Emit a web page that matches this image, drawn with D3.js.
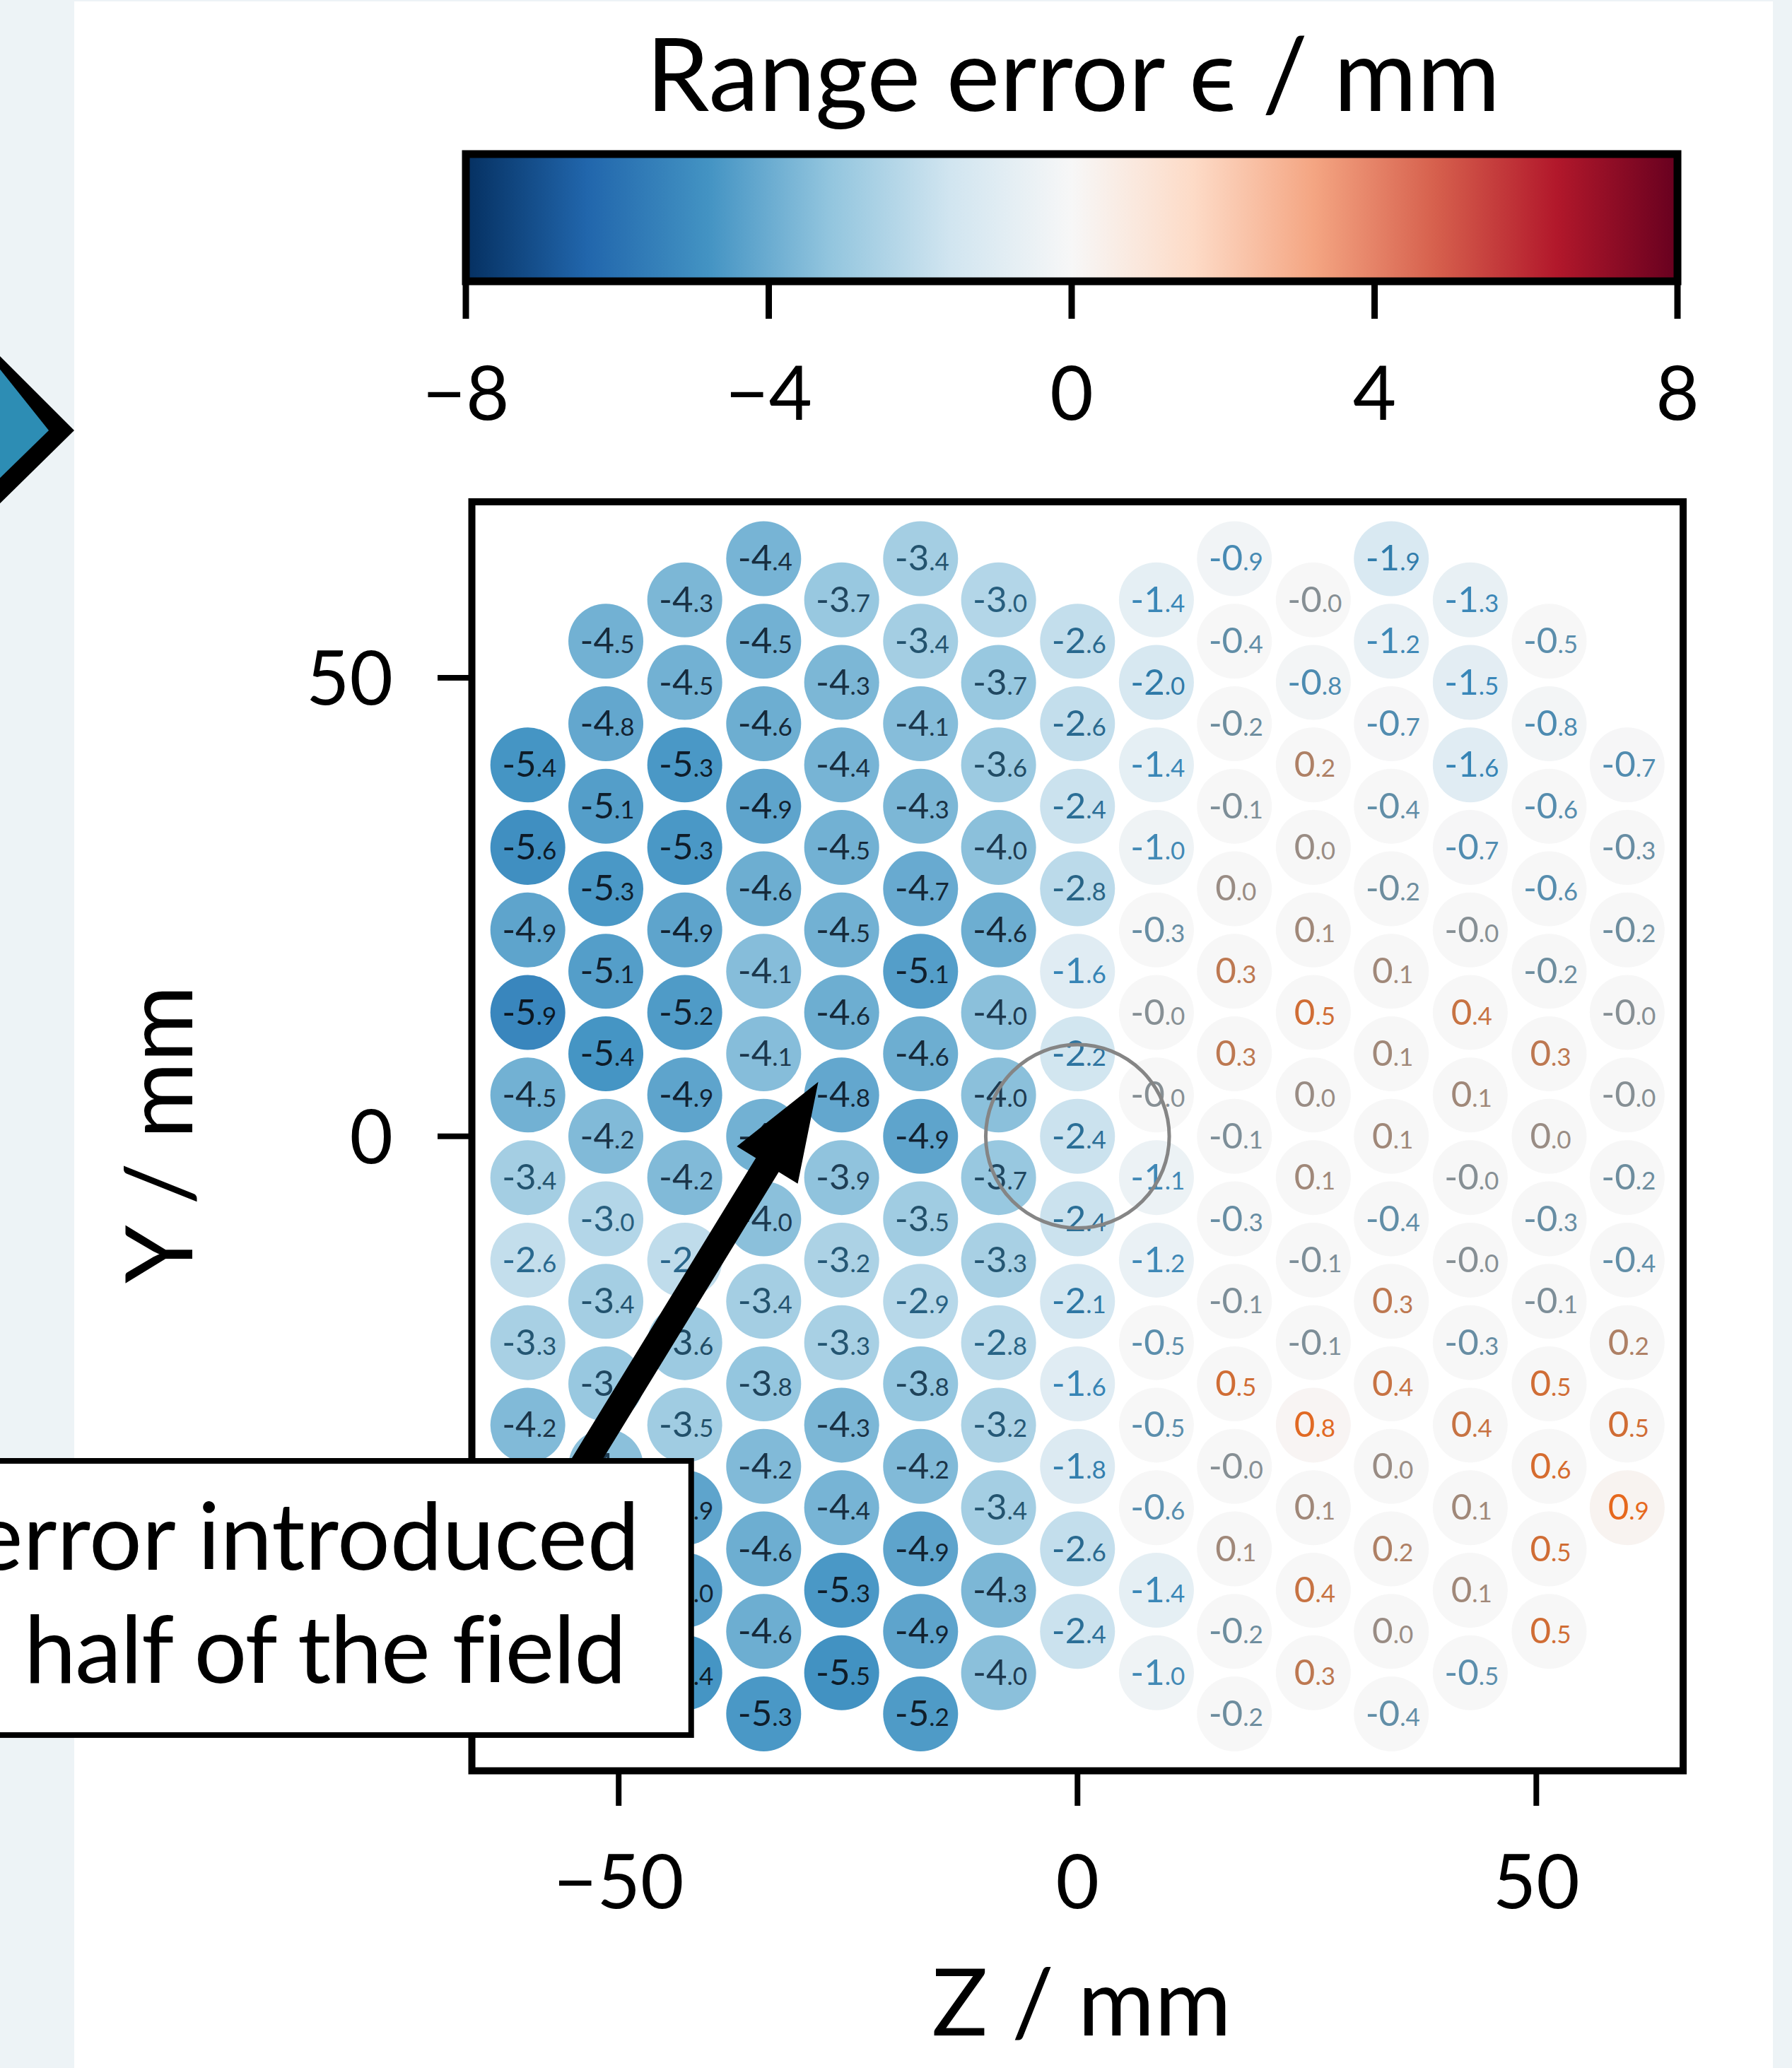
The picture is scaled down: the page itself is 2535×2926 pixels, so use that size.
<!DOCTYPE html>
<html>
<head>
<meta charset="utf-8">
<script src="https://cdn.jsdelivr.net/npm/d3@7"></script>
<style>
  html, body { margin: 0; padding: 0; background: #edf3f6; }
  svg { display: block; }
</style>
</head>
<body>
<svg id="chart"></svg>
<script>
// ---- data ----
// lateral spot columns (Z / mm), top spot of each column (Y / mm), spot pitch along Y
const columnZ = [-59.9, -51.4, -42.8, -34.2, -25.7, -17.1, -8.6, 0, 8.6, 17.1, 25.7, 34.2, 42.8, 51.4, 59.9];
const columnTopY = [40.5, 54, 58.5, 63, 58.5, 63, 58.5, 54, 58.5, 63, 58.5, 63, 58.5, 54, 40.5];
const spotPitch = 9;

// range error per spot, top to bottom in each column (-0 prints as "-0.0")
const errCol0 = [-5.4, -5.6, -4.9, -5.9, -4.5, -3.4, -2.6, -3.3, -4.2, -4.6];
const errCol1 = [-4.5, -4.8, -5.1, -5.3, -5.1, -5.4, -4.2, -3.0, -3.4, -3.7, -4.0, -4.4, -4.7];
const errCol2 = [-4.3, -4.5, -5.3, -5.3, -4.9, -5.2, -4.9, -4.2, -2.7, -3.6, -3.5, -4.9, -5.0, -5.4];
const errCol3 = [-4.4, -4.5, -4.6, -4.9, -4.6, -4.1, -4.1, -4.5, -4.0, -3.4, -3.8, -4.2, -4.6, -4.6, -5.3];
const errCol4 = [-3.7, -4.3, -4.4, -4.5, -4.5, -4.6, -4.8, -3.9, -3.2, -3.3, -4.3, -4.4, -5.3, -5.5];
const errCol5 = [-3.4, -3.4, -4.1, -4.3, -4.7, -5.1, -4.6, -4.9, -3.5, -2.9, -3.8, -4.2, -4.9, -4.9, -5.2];
const errCol6 = [-3.0, -3.7, -3.6, -4.0, -4.6, -4.0, -4.0, -3.7, -3.3, -2.8, -3.2, -3.4, -4.3, -4.0];
const errCol7 = [-2.6, -2.6, -2.4, -2.8, -1.6, -2.2, -2.4, -2.4, -2.1, -1.6, -1.8, -2.6, -2.4];
const errCol8 = [-1.4, -2.0, -1.4, -1.0, -0.3, -0, -0, -1.1, -1.2, -0.5, -0.5, -0.6, -1.4, -1.0];
const errCol9 = [-0.9, -0.4, -0.2, -0.1, 0.0, 0.3, 0.3, -0.1, -0.3, -0.1, 0.5, -0, 0.1, -0.2, -0.2];
const errCol10 = [-0, -0.8, 0.2, 0.0, 0.1, 0.5, 0.0, 0.1, -0.1, -0.1, 0.8, 0.1, 0.4, 0.3];
const errCol11 = [-1.9, -1.2, -0.7, -0.4, -0.2, 0.1, 0.1, 0.1, -0.4, 0.3, 0.4, 0.0, 0.2, 0.0, -0.4];
const errCol12 = [-1.3, -1.5, -1.6, -0.7, -0, 0.4, 0.1, -0, -0, -0.3, 0.4, 0.1, 0.1, -0.5];
const errCol13 = [-0.5, -0.8, -0.6, -0.6, -0.2, 0.3, 0.0, -0.3, -0.1, 0.5, 0.6, 0.5, 0.5];
const errCol14 = [-0.7, -0.3, -0.2, -0, -0, -0.2, -0.4, 0.2, 0.5, 0.9];
const errColumns = [errCol0, errCol1, errCol2, errCol3, errCol4, errCol5, errCol6, errCol7,
  errCol8, errCol9, errCol10, errCol11, errCol12, errCol13, errCol14];

const xTicks = [-50, 0, 50];
const yTicks = [-50, 0, 50];
const cbarTicks = [-8, -4, 0, 4, 8];
const cbarDomain = [-8, 8];

// marked region (circle) and annotation
const markCenter = [0, 0], markRadius = 10;
const arrowFrom = [-55.1, -37.9], arrowTo = [-28.25, 5.94];
const noteLines = ["Artificial error introduced", "in one half of the field"];

// RdBu_r (ColorBrewer 11)
const rdbuR = ["#053061", "#2166ac", "#4393c3", "#92c5de", "#d1e5f0", "#f7f7f7",
  "#fddbc7", "#f4a582", "#d6604d", "#b2182b", "#67001f"];

// ---- layout ----
const W = 2535, H = 2926;
const FONT = "Lato, 'Open Sans', 'DejaVu Sans', sans-serif";

const svg = d3.select("#chart")
  .attr("width", W).attr("height", H)
  .attr("viewBox", [0, 0, W, H])
  .style("font-family", FONT);

const x = d3.scaleLinear().domain([-66, 66]).range([667.5, 2381]);
const y = d3.scaleLinear().domain([-69.2, 69.2]).range([2505.5, 710]);
const cb = d3.scaleLinear().domain(cbarDomain).range([659, 2373]);
const cmap = d3.scaleSequential(d3.piecewise(d3.interpolateRgb, rdbuR)).domain(cbarDomain);

// spot fill is washed out around zero
const fillOf = (v) => cmap(Math.sign(v) * Math.max(0, Math.abs(v) - 0.65));

const textColor = d3.scaleLinear()
  .domain([-6, -5, -4.5, -4, -3.5, -3, -2.5, -2, -1.5, -1, -0.5, -0.2, -0.04, 0.04, 0.15, 0.3, 0.5, 0.9])
  .range(["#0a1520", "#11202e", "#172b3c", "#1d3a50", "#22506a", "#275e7e", "#2a6c93", "#2f7aa8",
    "#3886b8", "#4289b5", "#5b8eac", "#6d8d9e", "#868f94", "#998c84", "#a6846f", "#bd7851",
    "#d06d35", "#e6681d"])
  .interpolate(d3.interpolateRgb)
  .clamp(true);

const isNeg = (v) => v < 0 || Object.is(v, -0);

// background, left neighbour panel
svg.append("rect").attr("width", W).attr("height", H).attr("fill", "#edf3f6");
svg.append("path").attr("d", "M-10,494L105,609L-10,722Z").attr("fill", "#000");
svg.append("path").attr("d", "M-10,510L69,609L-10,686Z").attr("fill", "#2d8db4");
svg.append("rect").attr("x", 105).attr("y", 2).attr("width", 2508 - 105).attr("height", H)
  .attr("fill", "#fff");

// ---- colorbar ----
const defs = svg.append("defs");
const grad = defs.append("linearGradient").attr("id", "cbGrad")
  .attr("x1", "0%").attr("x2", "100%").attr("y1", "0%").attr("y2", "0%");
grad.selectAll("stop").data(rdbuR).join("stop")
  .attr("offset", (d, i) => `${(i / (rdbuR.length - 1)) * 100}%`)
  .attr("stop-color", (d) => d);

const cbTop = 218, cbBottom = 398;
svg.append("rect")
  .attr("x", cb(-8)).attr("y", cbTop)
  .attr("width", cb(8) - cb(-8)).attr("height", cbBottom - cbTop)
  .attr("fill", "url(#cbGrad)")
  .attr("stroke", "#000").attr("stroke-width", 11);

const cbAxis = svg.append("g");
cbAxis.selectAll("line").data(cbarTicks).join("line")
  .attr("x1", (d) => cb(d)).attr("x2", (d) => cb(d))
  .attr("y1", cbBottom).attr("y2", 451)
  .attr("stroke", "#000").attr("stroke-width", 9);
cbAxis.selectAll("text").data(cbarTicks).join("text")
  .attr("x", (d) => cb(d)).attr("y", 594)
  .attr("text-anchor", "middle")
  .attr("font-size", 106)
  .text((d) => (d < 0 ? "\u2212" : "") + Math.abs(d));

svg.append("text")
  .attr("x", 1518).attr("y", 157)
  .attr("text-anchor", "middle")
  .attr("font-size", 143)
  .text("Range error \u03f5 / mm");

// ---- spots ----
const spots = [];
errColumns.forEach((vals, c) => {
  vals.forEach((v, i) => {
    spots.push({ z: columnZ[c], y: columnTopY[c] - i * spotPitch, v });
  });
});

const plot = svg.append("g");
plot.selectAll("circle.spot").data(spots).join("circle")
  .attr("class", "spot")
  .attr("cx", (d) => x(d.z)).attr("cy", (d) => y(d.y))
  .attr("r", 53)
  .attr("fill", (d) => fillOf(d.v));

const labels = plot.selectAll("text.spot").data(spots).join("text")
  .attr("class", "spot")
  .attr("x", (d) => x(d.z) + 2)
  .attr("y", (d) => y(d.y) + 17)
  .attr("text-anchor", "middle")
  .attr("fill", (d) => {
    let v = d.v;
    if (v === 0) v = Object.is(v, -0) ? -0.04 : 0.04;
    return textColor(v);
  });
labels.append("tspan")
  .attr("font-size", 51)
  .text((d) => (isNeg(d.v) ? "-" : "") + Math.abs(d.v).toFixed(1).split(".")[0]);
labels.append("tspan")
  .attr("font-size", 35)
  .text((d) => "." + Math.abs(d.v).toFixed(1).split(".")[1]);

// marked region
plot.append("circle")
  .attr("cx", x(markCenter[0])).attr("cy", y(markCenter[1]))
  .attr("r", x(markRadius) - x(0))
  .attr("fill", "none")
  .attr("stroke", "#858585").attr("stroke-width", 5);

// arrow
function arrowPath(x0, y0, x1, y1, shaftW, headW, headL) {
  const dx = x1 - x0, dy = y1 - y0, L = Math.hypot(dx, dy);
  const ux = dx / L, uy = dy / L, nx = -uy, ny = ux;
  const bx = x1 - ux * headL, by = y1 - uy * headL;
  const pts = [
    [x0 + nx * shaftW / 2, y0 + ny * shaftW / 2],
    [bx + nx * shaftW / 2, by + ny * shaftW / 2],
    [bx + nx * headW / 2, by + ny * headW / 2],
    [x1, y1],
    [bx - nx * headW / 2, by - ny * headW / 2],
    [bx - nx * shaftW / 2, by - ny * shaftW / 2],
    [x0 - nx * shaftW / 2, y0 - ny * shaftW / 2],
  ];
  return d3.line()(pts) + "Z";
}
plot.append("path")
  .attr("d", arrowPath(x(arrowFrom[0]), y(arrowFrom[1]), x(arrowTo[0]), y(arrowTo[1]), 38, 101, 138))
  .attr("fill", "#000");

// frame
svg.append("rect")
  .attr("x", x(-66)).attr("y", y(69.2))
  .attr("width", x(66) - x(-66)).attr("height", y(-69.2) - y(69.2))
  .attr("fill", "none").attr("stroke", "#000").attr("stroke-width", 10);

// x axis
const xAxis = svg.append("g");
xAxis.selectAll("line").data(xTicks).join("line")
  .attr("x1", (d) => x(d)).attr("x2", (d) => x(d))
  .attr("y1", y(-69.2)).attr("y2", 2555)
  .attr("stroke", "#000").attr("stroke-width", 8);
xAxis.selectAll("text").data(xTicks).join("text")
  .attr("x", (d) => x(d)).attr("y", 2700)
  .attr("text-anchor", "middle").attr("font-size", 106)
  .text((d) => (d < 0 ? "\u2212" : "") + Math.abs(d));
svg.append("text")
  .attr("x", 1530).attr("y", 2880)
  .attr("text-anchor", "middle").attr("font-size", 132)
  .text("Z / mm");

// y axis
const yAxis = svg.append("g");
yAxis.selectAll("line").data(yTicks).join("line")
  .attr("x1", x(-66)).attr("x2", 619)
  .attr("y1", (d) => y(d)).attr("y2", (d) => y(d))
  .attr("stroke", "#000").attr("stroke-width", 8);
yAxis.selectAll("text").data(yTicks).join("text")
  .attr("x", 556).attr("y", (d) => y(d) + 38)
  .attr("text-anchor", "end").attr("font-size", 106)
  .text((d) => (d < 0 ? "\u2212" : "") + Math.abs(d));
svg.append("text")
  .attr("transform", "translate(272,1605) rotate(-90)")
  .attr("text-anchor", "middle").attr("font-size", 132)
  .text("Y / mm");

// annotation box (runs off the left edge)
const boxRight = x(-42.1), boxTop = y(-35.4), boxBottom = y(-65.3);
svg.append("rect")
  .attr("x", -100).attr("y", boxTop)
  .attr("width", boxRight + 100).attr("height", boxBottom - boxTop)
  .attr("fill", "#fff").attr("stroke", "#000").attr("stroke-width", 8);
svg.append("text")
  .attr("x", boxRight - 73).attr("y", 2221)
  .attr("text-anchor", "end").attr("font-size", 132)
  .text(noteLines[0]);
svg.append("text")
  .attr("x", boxRight - 93).attr("y", 2381)
  .attr("text-anchor", "end").attr("font-size", 132)
  .attr("letter-spacing", -1.5)
  .text(noteLines[1]);
</script>
</body>
</html>
